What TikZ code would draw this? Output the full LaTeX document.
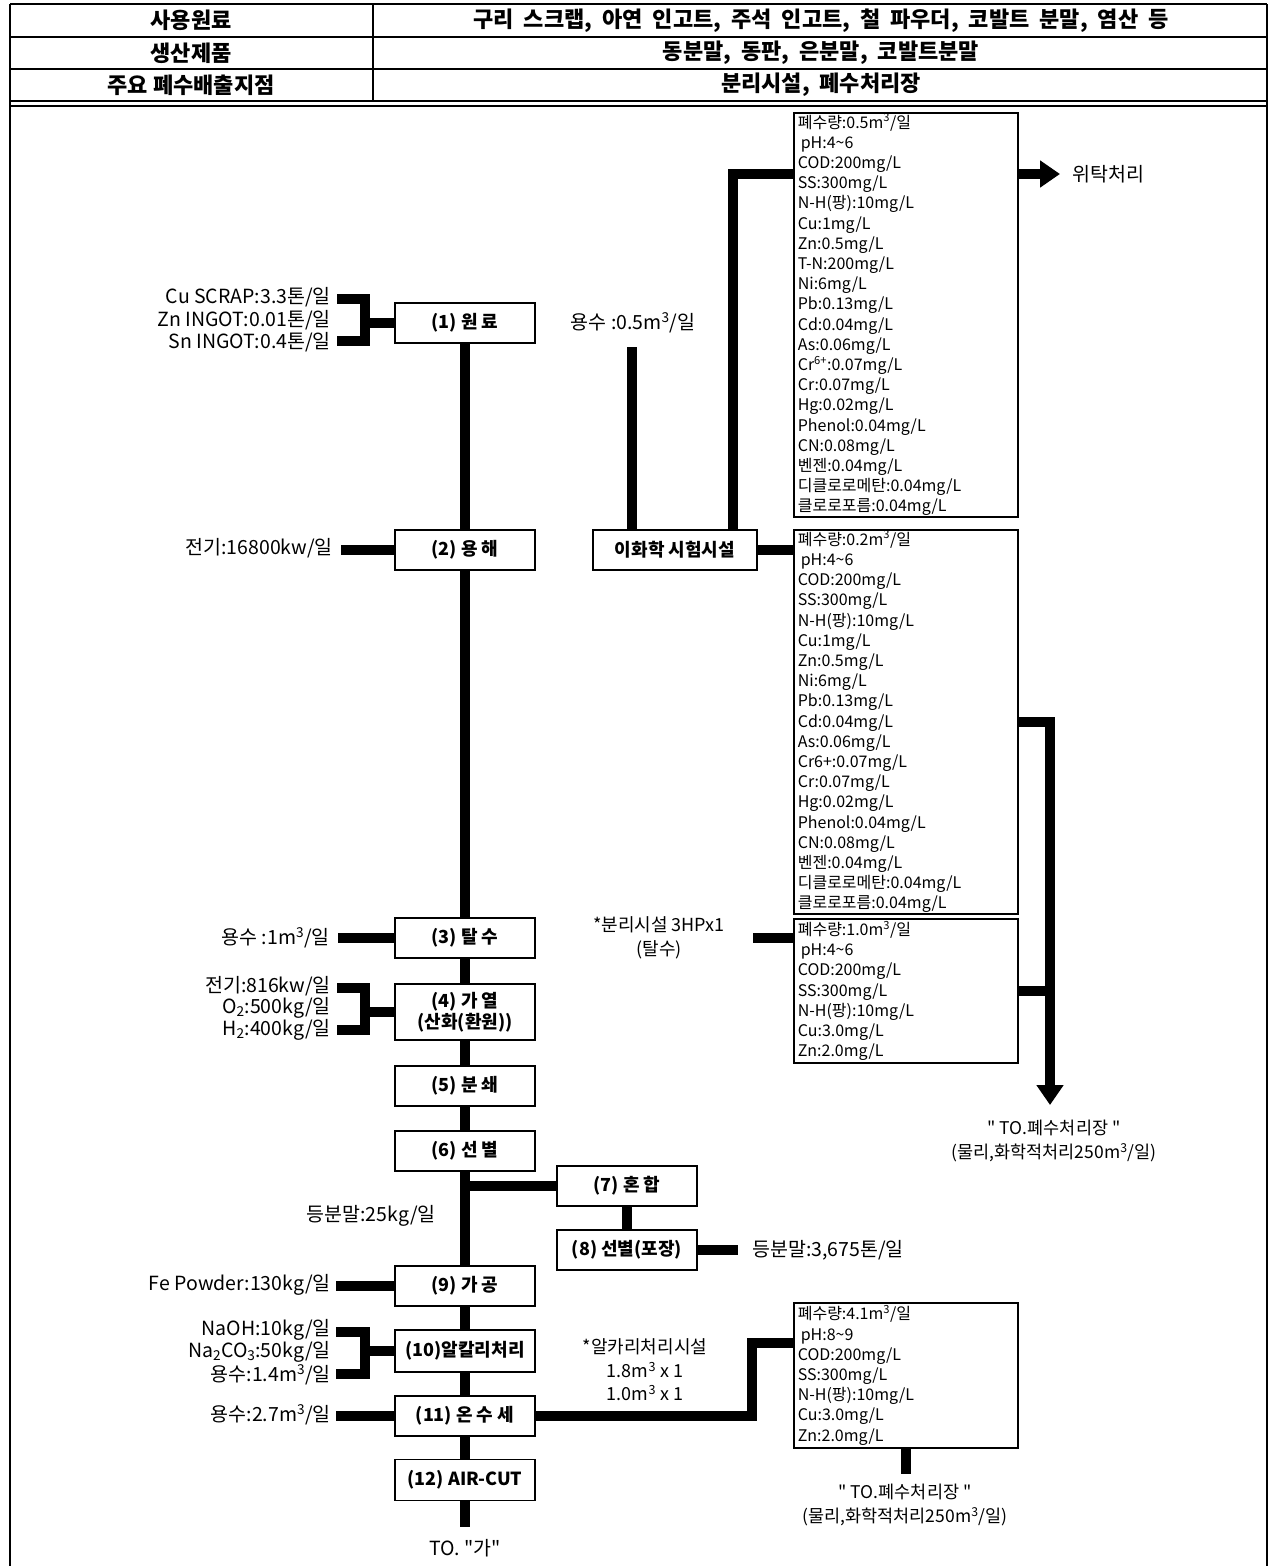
\documentclass[tikz,border=0pt]{standalone}
\usepackage{fontspec}
\setmainfont{Noto Sans CJK KR}[Ligatures=TeXOff]
\usetikzlibrary{arrows.meta,calc}

\tikzset{
  proc/.style={draw, line width=1.6pt, minimum width=140pt, minimum height=40pt,
    inner sep=0pt, fill=white, align=center,
    font=\bfseries\fontsize{18}{21}\selectfont},
  lbl/.style={inner sep=0pt, font=\fontsize{19.5}{23}\selectfont},
  note/.style={inner sep=0pt, align=center, font=\fontsize{18}{23.5}\selectfont},
  hd/.style={inner sep=0pt, font=\bfseries\fontsize{22}{24}\selectfont},
  pipe/.style={line width=10pt, line join=miter},
  listbox/.style={draw, line width=1.6pt, anchor=north west, align=left,
    minimum width=224pt, text width=216pt, inner xsep=4pt, inner ysep=0pt,
    font=\fontsize{16}{20.2}\selectfont},
  rule/.style={line width=1.3pt},
  frame/.style={line width=2pt},
  tip/.style={-{Triangle[length=20pt,width=26pt]}}
}
\newcommand{\mcube}{m\textsuperscript{3}}
\newcommand{\tld}{\textasciitilde}

\begin{document}
\begin{tikzpicture}[x=1pt,y=-1pt]
\useasboundingbox (0,0) rectangle (1271,1566);

% ---- header table ----
\draw[line width=2.6pt] (10,4) -- (1267,4);
\draw[frame] (10,4) -- (10,1566);
\draw[frame] (1267,4) -- (1267,1566);
\draw[rule] (10,37) -- (1267,37);
\draw[rule] (10,69) -- (1267,69);
\draw[rule] (10,101) -- (1267,101);
\draw[rule] (10,106) -- (1267,106);
\draw[rule] (373,4) -- (373,101);
\node[hd] (ha) at (191,20.5) {사용원료};
\node[hd] (hb) at (821,20.5) {\spaceskip=10pt\relax 구리 스크랩, 아연 인고트, 주석 인고트, 철 파우더, 코발트 분말, 염산 등};
\node[hd] (hc) at (191,53) {생산제품};
\node[hd] (hd) at (821,53) {\spaceskip=10pt\relax 동분말, 동판, 은분말, 코발트분말};
\node[hd] (he) at (191,85) {주요 폐수배출지점};
\node[hd] (hf) at (821,85) {\spaceskip=10pt\relax 분리시설, 폐수처리장};

% ---- main process column ----
\node[proc] (n1) at (465,323) {(1) 원 료};
\node[proc] (n2) at (465,550) {(2) 용 해};
\node[proc] (n3) at (465,938) {(3) 탈 수};
\node[proc, minimum height=56pt] (n4) at (465,1012) {(4) 가 열\\(산화(환원))};
\node[proc] (n5) at (465,1086) {(5) 분 쇄};
\node[proc] (n6) at (465,1151) {(6) 선 별};
\node[proc] (n7) at (627,1186) {(7) 혼 합};
\node[proc] (n8) at (627,1250) {(8) 선별(포장)};
\node[proc] (n9) at (465,1286) {(9) 가 공};
\node[proc, minimum height=42pt] (n10) at (465,1351) {(10)알칼리처리};
\node[proc] (n11) at (465,1416) {(11) 온 수 세};
\node[proc, minimum height=41pt] (n12) at (465,1480) {(12) AIR-CUT};

\draw[pipe] (n1.south) -- (n2.north);
\draw[pipe] (n2.south) -- (n3.north);
\draw[pipe] (n3.south) -- (n4.north);
\draw[pipe] (n4.south) -- (n5.north);
\draw[pipe] (n5.south) -- (n6.north);
\draw[pipe] (n6.south) -- (n9.north);
\draw[pipe] (n7.west) -- (n7.west -| n6.south);
\draw[pipe] (n7.south) -- (n8.north);
\draw[pipe] (n9.south) -- (n10.north);
\draw[pipe] (n10.south) -- (n11.north);
\draw[pipe] (n11.south) -- (n12.north);
\coordinate (outA) at (465,1527);
\draw[pipe] (n12.south) -- (outA);
\node[lbl] (toA) at (465,1548) {TO. "가"};

% ---- inputs on the left ----
\node[lbl, anchor=east] (i1) at (331,297) {Cu SCRAP:3.3톤/일};
\node[lbl, anchor=east] (i2) at (331,320) {Zn INGOT:0.01톤/일};
\node[lbl, anchor=east] (i3) at (331,342) {Sn INGOT:0.4톤/일};
\coordinate (b1a) at (337,299);
\coordinate (b1b) at (337,341);
\draw[pipe] (b1a) -- (365,299) -- (365,341) -- (b1b);
\draw[pipe] (n1.west) -- (n1.west -| 365,0);

\node[lbl, anchor=east] (i4) at (333,548) {전기:16800kw/일};
\coordinate (b2) at (341,550);
\draw[pipe] (b2) -- (n2.west);

\node[lbl, anchor=east] (i5) at (330,938) {용수 :1\mcube/일};
\coordinate (b3) at (338,938);
\draw[pipe] (b3) -- (n3.west);

\node[lbl, anchor=east] (i6) at (331,986) {전기:816kw/일};
\node[lbl, anchor=east] (i7) at (331,1008) {O\textsubscript{2}:500kg/일};
\node[lbl, anchor=east] (i8) at (331,1030) {H\textsubscript{2}:400kg/일};
\coordinate (b4a) at (337,988);
\coordinate (b4b) at (337,1030);
\draw[pipe] (b4a) -- (365,988) -- (365,1030) -- (b4b);
\draw[pipe] (n4.west) -- (n4.west -| 365,0);

\node[lbl, anchor=east] (i9) at (436,1216) {등분말:25kg/일};

\node[lbl, anchor=east] (i10) at (331,1285) {Fe Powder:130kg/일};
\coordinate (b5) at (336,1286);
\draw[pipe] (b5) -- (n9.west);

\node[lbl, anchor=east] (i11) at (331,1330) {NaOH:10kg/일};
\node[lbl, anchor=east] (i12) at (331,1352) {Na\textsubscript{2}CO\textsubscript{3}:50kg/일};
\node[lbl, anchor=east] (i13) at (331,1375) {용수:1.4\mcube/일};
\coordinate (b6a) at (336,1332);
\coordinate (b6b) at (336,1374);
\draw[pipe] (b6a) -- (365,1332) -- (365,1374) -- (b6b);
\draw[pipe] (n10.west) -- (n10.west -| 365,0);

\node[lbl, anchor=east] (i14) at (331,1415) {용수:2.7\mcube/일};
\coordinate (b7) at (336,1416);
\draw[pipe] (b7) -- (n11.west);

% ---- product output ----
\coordinate (p8) at (738,1250);
\draw[pipe] (n8.east) -- (p8);
\node[lbl, anchor=west] (o8) at (752,1250) {등분말:3,675톤/일};

% ---- alkali treatment to wastewater box ----
\node[note] (alk) at (645,1370) {*알카리처리시설\\1.8\mcube{} x 1\\1.0\mcube{} x 1};
\node[listbox, minimum height=145pt] (w4) at (793,1302) {폐수량:4.1\mcube/일\\
\hspace*{3pt}pH:8\tld9\\COD:200mg/L\\SS:300mg/L\\N-H(팡):10mg/L\\Cu:3.0mg/L\\Zn:2.0mg/L};
\coordinate (w4in) at ($(w4.north west)+(0,41)$);
\draw[pipe] (n11.east) -- (752,1416) -- (752,1343) -- (w4in);
\coordinate (w4out) at ($(w4.south)+(0,25)$);
\draw[pipe] (w4.south) -- (w4out);
\node[note, font=\fontsize{17.5}{24}\selectfont] (to4) at (905,1505) {" TO.폐수처리장 "\\(물리,화학적처리250\mcube/일)};

% ---- laboratory branch ----
\node[lbl] (wlab) at (633,323) {용수 :0.5\mcube/일};
\node[proc, minimum width=164pt] (lab) at (675,550) {이화학 시험시설};
\coordinate (wl) at (632,347);
\draw[pipe] (wl) -- (wl |- lab.north);

\node[listbox, minimum height=404pt] (w1) at (793,112) {폐수량:0.5\mcube/일\\
\hspace*{3pt}pH:4\tld6\\COD:200mg/L\\SS:300mg/L\\N-H(팡):10mg/L\\Cu:1mg/L\\Zn:0.5mg/L\\T-N:200mg/L\\Ni:6mg/L\\Pb:0.13mg/L\\Cd:0.04mg/L\\As:0.06mg/L\\Cr\textsuperscript{6+}:0.07mg/L\\Cr:0.07mg/L\\Hg:0.02mg/L\\Phenol:0.04mg/L\\CN:0.08mg/L\\벤젠:0.04mg/L\\디클로로메탄:0.04mg/L\\클로로포름:0.04mg/L};
\coordinate (w1in) at ($(w1.north west)+(0,62)$);
\coordinate (w1out) at ($(w1.north east)+(0,62)$);
\draw[pipe] (lab.north -| 733,0) -- (733,174) -- (w1in);
\coordinate (ext) at (1060,174);
\draw[pipe, tip] (w1out) -- (ext);
\node[lbl, anchor=west] (ext1) at (1072,174) {위탁처리};

\node[listbox, minimum height=384pt] (w2) at (793,529) {폐수량:0.2\mcube/일\\
\hspace*{3pt}pH:4\tld6\\COD:200mg/L\\SS:300mg/L\\N-H(팡):10mg/L\\Cu:1mg/L\\Zn:0.5mg/L\\Ni:6mg/L\\Pb:0.13mg/L\\Cd:0.04mg/L\\As:0.06mg/L\\Cr6+:0.07mg/L\\Cr:0.07mg/L\\Hg:0.02mg/L\\Phenol:0.04mg/L\\CN:0.08mg/L\\벤젠:0.04mg/L\\디클로로메탄:0.04mg/L\\클로로포름:0.04mg/L};
\draw[pipe] (lab.east) -- (lab.east -| w2.west);

% ---- separator (dewatering) ----
\node[note] (sep) at (659,938) {*분리시설 3HPx1\\(탈수)};
\node[listbox, minimum height=144pt] (w3) at (793,918) {폐수량:1.0\mcube/일\\
\hspace*{3pt}pH:4\tld6\\COD:200mg/L\\SS:300mg/L\\N-H(팡):10mg/L\\Cu:3.0mg/L\\Zn:2.0mg/L};
\coordinate (w3in) at ($(w3.north west)+(0,20)$);
\coordinate (sepout) at (753,938);
\draw[pipe] (sepout) -- (w3in);

% ---- collector to treatment plant ----
\coordinate (col) at (1050,1105);
\draw[pipe, tip] (w2.east) -- (w2.east -| col) -- (col);
\draw[pipe] (w3.east) -- (w3.east -| col);
\node[note, font=\fontsize{17.5}{24}\selectfont] (to2) at (1054,1141) {" TO.폐수처리장 "\\(물리,화학적처리250\mcube/일)};

\end{tikzpicture}
\end{document}
